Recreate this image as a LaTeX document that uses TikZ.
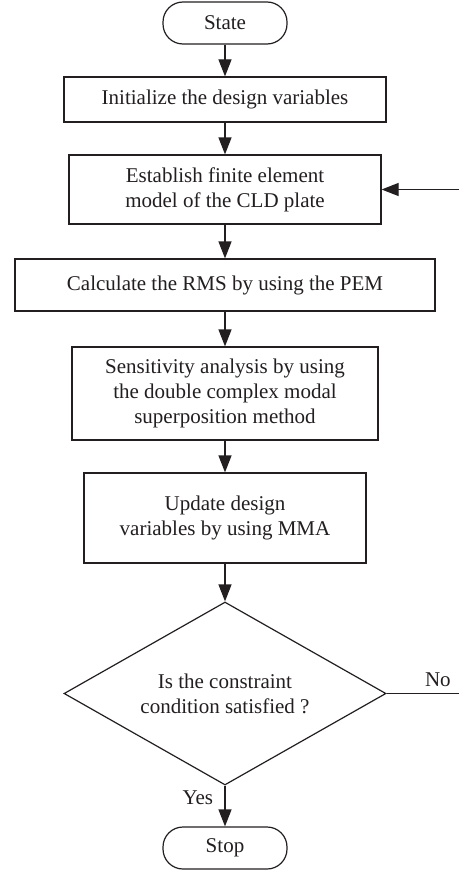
\documentclass[tikz,border=0pt]{standalone}
\usepackage{fontspec}
\setmainfont{Liberation Serif}
\usetikzlibrary{arrows.meta,shapes.geometric,positioning}
\definecolor{ink}{HTML}{231F20}
\begin{document}
\begin{tikzpicture}[x=1pt,y=-1pt,
  every node/.style={font=\fontsize{21}{25}\selectfont, text=ink},
  box/.style={draw=ink, line width=1.2pt, inner sep=0pt, align=center},
  term/.style={draw=ink, line width=1.2pt, rounded corners=20pt, inner sep=0pt, minimum width=124pt, minimum height=42pt},
  decision/.style={draw=ink, line width=1.2pt, diamond, aspect=1.76, inner sep=0pt, minimum width=322pt, minimum height=183pt, align=center},
  flow/.style={draw=ink, line width=1.2pt, -{Triangle[length=17pt,width=13pt]}},
  lbl/.style={font=\fontsize{21}{24}\selectfont}]
\useasboundingbox (0,0) rectangle (458,872);
\fill[white] (0,0) rectangle (458,872);
\node[term] (start) at (225,23) {State};
\node[box, minimum width=322pt, minimum height=45pt] (init) at (225,99.5) {Initialize the design variables};
\node[box, minimum width=312pt, minimum height=69pt] (fem) at (225,189.5) {Establish finite element\\model of the CLD plate};
\node[box, minimum width=420pt, minimum height=52pt] (rms) at (225,285) {Calculate the RMS by using the PEM};
\node[box, minimum width=306pt, minimum height=93pt] (sens) at (225,393.5) {Sensitivity analysis by using\\the double complex modal\\superposition method};
\node[box, minimum width=282pt, minimum height=90pt] (upd) at (225,518) {Update design\\variables by using MMA};
\node[decision] (dec) at (225,693.5) {Is the constraint\\condition satisfied ?};
\node[term] (stop) at (225,848) {Stop};
\coordinate (c1) at (462,693.5);
\coordinate (c2) at (462,189.5);
\draw[flow] (start) -- (init);
\draw[flow] (init) -- (fem);
\draw[flow] (fem) -- (rms);
\draw[flow] (rms) -- (sens);
\draw[flow] (sens) -- (upd);
\draw[flow] (upd) -- (dec.north);
\draw[flow] (dec.south) -- node[lbl, left, pos=0.3, xshift=-8pt] {Yes} (stop);
\draw[flow] (dec.east) -- node[lbl, above, pos=0.68, yshift=3pt] {No} (c1) -- (c2) -- (fem.east);
\end{tikzpicture}
\end{document}
